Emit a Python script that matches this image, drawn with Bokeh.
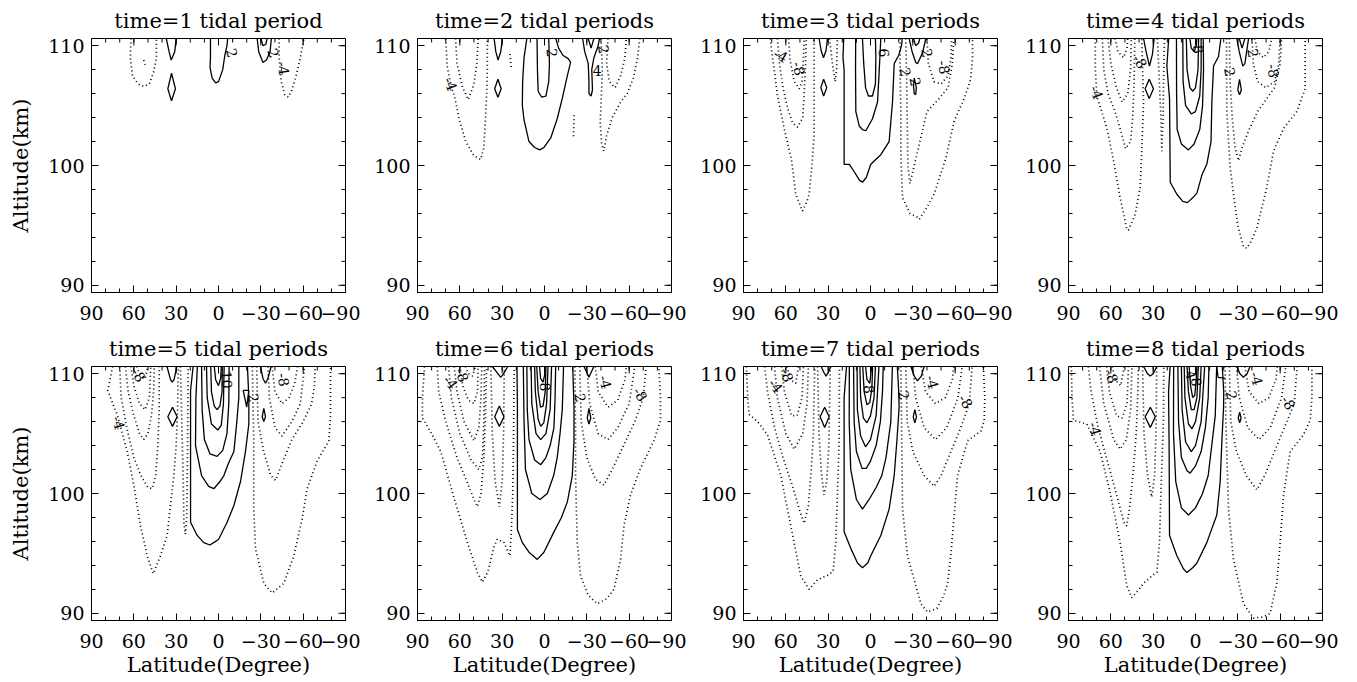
from bokeh.plotting import figure
from bokeh.layouts import row, column
from bokeh.models import Range1d, FixedTicker
from bokeh.core.properties import value
from bokeh.embed import file_html
from bokeh.resources import INLINE

FONT = "DejaVu Serif"
LAT_TICKS = [90, 60, 30, 0, -30, -60, -90]
LAT_MINOR = list(range(-90, 91, 10))
LAT_LABELS = {90: "90", 60: "60", 30: "30", 0: "0", -30: "\u221230", -60: "\u221260", -90: "\u221290"}
ALT_TICKS = [90, 100, 110]
ALT_MINOR = list(range(90, 111, 2))
TITLES = ["time=1 tidal period", "time=2 tidal periods", "time=3 tidal periods",
          "time=4 tidal periods", "time=5 tidal periods", "time=6 tidal periods",
          "time=7 tidal periods", "time=8 tidal periods"]

# ---- contour lines: (latitude, altitude km) ----
P1_SOLID = [
    [(37, 110.6), (35, 109.5), (33.5, 108.8), (31, 109.5), (30, 110.6)],
    [(33.3, 107.7), (35.9, 106.4), (33.3, 105.4), (30.5, 106.4), (33.3, 107.7)],
    [(5.7, 110.6), (5.7, 109), (6, 108.2), (4.5, 107.3), (2, 106.9), (0, 107), (-3, 108), (-4.5, 109.2), (-6, 110), (-6.5, 110.6)],
    [(-27.4, 110.6), (-28.5, 109.5), (-31.5, 108.6), (-34, 108.8), (-36.5, 109.5), (-37.5, 110.6)],
    [(-30, 110.6), (-31.5, 110.0), (-33.5, 110.1), (-34.5, 110.6)],
]
P1_DOTTED = [
    [(62, 110.6), (62.5, 109), (61, 107.5), (57, 106.8), (53, 106.6), (49, 106.8), (46, 107.8), (44, 109), (44, 110.6)],
    [(-43, 110.6), (-43, 109), (-44.5, 107), (-47, 105.9), (-49.5, 105.7), (-52, 106.3), (-55, 107.5), (-58, 109), (-60.5, 110.6)],
    [(53, 108.8), (52, 108.4)],
]
P1_LABELS = [(-9.8, 109.4, "2", -1.3), (-39.2, 109.4, "2", -1.2), (-46.3, 108.1, "-4", -1.4)]

P2_SOLID = [
    [(35.7, 110.6), (34.5, 109.5), (32.9, 108.8), (31, 109.5), (29.8, 110.6)],
    [(33, 107.2), (35.3, 106.4), (33, 105.7), (30.7, 106.4), (33, 107.2)],
    [(12.5, 110.6), (14.5, 109), (15.5, 107), (15.7, 105), (14.5, 103.8), (11, 102), (7, 101.5), (3.4, 101.3), (0.5, 101.5), (-4.4, 102.3), (-9, 103.9), (-12.6, 105.6), (-16.2, 107.5), (-18.5, 108.6), (-17, 108.9), (-13, 109.2), (-10, 109.8), (-8, 110.6)],
    [(5.3, 110.6), (5, 108), (4.5, 106.2), (2, 105.7), (-1, 105.8), (-3, 107), (-3.5, 108.5), (-3, 110.6)],
    [(-27, 110.6), (-28.5, 109.5), (-31, 108.5), (-31.5, 107), (-31.5, 106), (-33, 105.8), (-34, 106.3), (-33.5, 108), (-35, 109), (-38, 110), (-39, 110.6)],
    [(-31, 110.6), (-33, 109.8), (-35, 110.6)],
]
P2_DOTTED = [
    [(70, 110.6), (69.5, 109.5), (69, 108.3), (66, 106.5), (64, 105.9), (60.5, 103.9), (55.8, 102), (50, 100.8), (45.2, 100.5), (43, 101.5), (42, 103.5), (41, 106), (40.5, 108), (40.5, 110.6)],
    [(63, 110.6), (62, 108.5), (58, 106.5), (54, 105.5), (50, 106.8), (48, 108.5), (47, 110.6)],
    [(24.5, 109.3), (23.5, 108.1)],
    [(-21, 104.2), (-20.5, 102.3)],
    [(-40, 110.6), (-41, 108), (-40, 105), (-39.5, 103.5), (-40.5, 101.8), (-42, 101.2), (-44, 102.5), (-48, 104), (-54, 105.3), (-58.6, 106), (-63, 107.3), (-66, 109), (-67.5, 110.6)],
    [(-45, 110.6), (-44, 108.5), (-46, 107), (-50, 106.5), (-54, 107.5), (-57, 109), (-58, 110.6)],
]
P2_LABELS = [(66.4, 106.8, "-4", -1.2), (-5.5, 109.4, "2", -1.5), (-42.1, 109.7, "2", -1.4), (-37.4, 107.9, "4", 0.0)]

P3_SOLID = [
    [(36.4, 110.6), (35, 109.6), (33.3, 109), (31.5, 109.6), (30.5, 110.6)],
    [(33.2, 107.2), (35.2, 106.5), (33.2, 105.8), (31, 106.5), (33.2, 107.2)],
    [(19, 110.6), (19.5, 109), (18.7, 108), (18.7, 104), (18.7, 100.1), (15, 100.1), (11.6, 99.5), (8, 98.8), (5.7, 98.6), (3, 99), (-0.2, 100.1), (-7.3, 100.9), (-13.2, 102), (-15.6, 105.3), (-16.8, 108.5), (-20, 109.2), (-22, 110), (-22.5, 110.6)],
    [(10.5, 110.6), (10.6, 108), (10.4, 104.5), (8, 103.3), (5.7, 103), (3.3, 102.9), (-1.4, 103.9), (-5, 105.3), (-6, 107.5), (-7.3, 110.6)],
    [(5.7, 110.6), (4.8, 108.5), (3.5, 106.5), (1.5, 105.8), (-1.4, 105.8), (-3.5, 106.8), (-3.8, 109), (-3.5, 110.6)],
    [(-27.4, 110.6), (-29.5, 109.5), (-32.1, 108.6), (-33.3, 108.5), (-36.9, 109.4), (-39.2, 110.6)],
    [(-30.5, 110.6), (-32, 110), (-34, 110.2), (-35, 110.6)],
    [(-31, 107.3), (-32.5, 106.5), (-32, 105.9), (-31, 106), (-30.5, 106.6), (-31, 107.3)],
]
P3_DOTTED = [
    [(71, 110.6), (69.5, 109), (68.3, 108.1), (66, 105.9), (61.2, 103.1), (56, 100.5), (53, 97.6), (48.2, 96.2), (45, 97), (43.5, 97.6), (41.5, 100), (40, 102.5), (40, 105), (40, 108), (40, 110.6)],
    [(66, 110.6), (64.5, 108.5), (62, 106.5), (58.8, 104.8), (55, 103.5), (51.7, 103.2), (48, 104), (47, 106), (46, 108.5), (45.5, 110.6)],
    [(58, 110.6), (57, 108.8), (54, 107), (50.5, 106.4), (48.5, 107), (47.5, 109), (47, 110.6)],
    [(29, 110.6), (27, 108.5), (25, 107), (24, 108), (23.5, 110.6)],
    [(-21, 110.6), (-21, 108), (-21.5, 104.2), (-21.5, 100.9), (-22.7, 97.3), (-28, 96), (-33, 95.7), (-34.5, 95.5), (-40, 96.5), (-45, 97.6), (-53.4, 100.6), (-59.3, 103.7), (-66.4, 105.6), (-71, 107.2), (-72.3, 109), (-72.3, 110.6)],
    [(-25, 110.6), (-25.5, 108), (-26, 104), (-26.5, 100), (-28, 98.5), (-30, 99.5), (-35, 102), (-40, 104.5), (-48, 105.5), (-55, 106.5), (-58, 108.5), (-59, 110.6)],
    [(-40, 110.6), (-41, 108.5), (-45, 107), (-50, 106.8), (-55, 107.5), (-57, 109), (-57.5, 110.6)],
]
P3_LABELS = [(63.5, 109.2, "-4", -0.5), (50.5, 108.1, "-8", -1.3), (-9.7, 109.4, "6", -1.5),
             (-25, 107.8, "2", -1.4), (-32.1, 107.0, "2", -1.4), (-52.2, 108.2, "-8", -1.4), (-40.4, 109.4, "2", -1.4)]

P4_SOLID = [
    [(36.8, 110.6), (35, 109.5), (32.6, 108.3), (30.5, 109.3), (29.3, 110.6)],
    [(32.8, 107.2), (35.7, 106.4), (32.8, 105.6), (29.8, 106.4), (32.8, 107.2)],
    [(19, 110.6), (20.3, 108.3), (18.4, 105.6), (17.9, 98.6), (13.2, 97.6), (9, 97), (5.7, 96.9), (2, 97.3), (-1, 97.7), (-4.5, 99.2), (-8, 100.1), (-11, 102), (-11.6, 105.3), (-12.8, 108.3), (-16.3, 109.1), (-18, 110.6)],
    [(13.5, 110.6), (13.4, 106), (13, 103), (10, 101.8), (5, 101.3), (1, 101.8), (-3, 103), (-5, 105), (-5.7, 108), (-5.5, 110.6)],
    [(9, 110.6), (8.8, 107), (7, 105), (3, 104.3), (0, 104.5), (-3, 105.8), (-4, 108), (-4, 110.6)],
    [(6.5, 110.6), (6, 108), (4, 106.5), (1.9, 106.2), (0, 106.5), (-1.8, 108), (-2.2, 110.6)],
    [(4, 110.6), (3, 109.8), (1, 109.5), (-0.5, 110), (-1, 110.6)],
    [(-29.3, 110.6), (-31, 109.5), (-33.5, 108.3), (-35, 108.5), (-37.6, 110.6)],
    [(-31, 110.6), (-33, 109.8), (-35, 110.6)],
    [(-31.2, 107.2), (-32.5, 106.3), (-31.2, 105.9), (-30, 106.3), (-31.2, 107.2)],
]
P4_DOTTED = [
    [(71, 110.6), (71, 108), (70, 106), (69.4, 105.6), (62.8, 103.1), (58.1, 100.4), (53.4, 97.3), (48.7, 94.7), (47.5, 94.6), (42.8, 95.9), (39.2, 98.2), (38, 101.5), (36.8, 105.3), (37.5, 108), (38, 110.6)],
    [(66, 110.6), (65, 108), (62, 106), (57, 104.5), (52, 102.5), (49.5, 101.4), (46, 102), (44.5, 104), (43.5, 107), (43, 110.6)],
    [(62, 110.6), (60, 108.5), (56, 106.5), (52, 105.3), (48, 106), (46, 108), (45.5, 110.6)],
    [(57, 110.6), (55, 109.5), (51, 109), (48.5, 109.8), (48, 110.6)],
    [(27, 110.6), (26, 108), (24.5, 104), (23.9, 101.2), (23, 104), (22.5, 108), (22, 110.6)],
    [(-22, 110.6), (-22, 108), (-22.2, 104.5), (-24.6, 99.8), (-26.9, 97.6), (-30, 95), (-34, 93.2), (-36.4, 93.1), (-40, 93.8), (-43.5, 94.8), (-50.6, 98.2), (-55.3, 101.2), (-62.4, 103.1), (-71.8, 104.5), (-77.7, 106.4), (-77.7, 108), (-77.7, 110.6)],
    [(-24, 110.6), (-24.5, 107), (-26, 104), (-28, 101.5), (-30.5, 100.4), (-33, 101.5), (-38, 103), (-44, 104.5), (-50, 105.5), (-56, 106.5), (-60, 108.5), (-61, 110.6)],
    [(-40, 110.6), (-41, 108.5), (-44, 107), (-50, 106.5), (-56, 107), (-59, 108.5), (-60, 110.6)],
    [(-42, 110.6), (-44, 109.5), (-48, 109), (-52, 109.5), (-54, 110.6)],
]
P4_LABELS = [(69.9, 106.1, "-4", -1.2), (39.2, 108.7, "-8", -1.0), (-2.1, 109.7, "8", -1.5),
             (-24.6, 107.8, "2", -1.4), (-41.1, 109.4, "2", -1.4), (-55.3, 107.9, "-8", -1.4)]

P5_SOLID = [
    [(36.5, 110.6), (34, 109.5), (32.8, 109.3), (31.5, 109.5), (29.5, 110.6)],
    [(32.6, 107.2), (35.9, 106.4), (32.6, 105.6), (29.3, 106.4), (32.6, 107.2)],
    [(18, 110.6), (19.8, 108.6), (19.8, 104), (19.8, 97.6), (15.1, 96.5), (10.4, 95.9), (6.1, 95.7), (2, 96), (-0.2, 96.2), (-6.1, 97.6), (-10.9, 99), (-15.6, 101), (-19.1, 103.5), (-21.5, 105.8), (-21.5, 108), (-20.5, 110.6)],
    [(15, 110.6), (16, 108), (16.3, 104), (12, 101.5), (7, 100.6), (3.3, 100.4), (-1, 101), (-3.8, 101.5), (-7, 102.5), (-10.9, 103.5), (-13, 106), (-14.4, 108), (-14.4, 110.6)],
    [(12, 110.6), (11.6, 107), (10, 104.5), (6, 103.3), (1, 103.1), (-3, 103.6), (-6, 105), (-7.3, 107.5), (-7.5, 110.6)],
    [(8.5, 110.6), (8, 108), (5, 105.8), (0.5, 105.3), (-2, 105.7), (-3.5, 107.5), (-4, 110.6)],
    [(5.5, 110.6), (5, 108.5), (3, 107.3), (1, 107), (-1, 107.3), (-2.5, 108.5), (-2.7, 110.6)],
    [(3, 110.6), (2, 109.5), (0, 109), (-1.5, 109.6), (-2, 110.6)],
    [(-29.8, 110.6), (-31.5, 109.6), (-33.3, 109.2), (-35, 109.6), (-37.3, 110.6)],
    [(-17.5, 108.6), (-21.5, 108.6), (-20, 107.2), (-17.5, 108.6)],
    [(-32.1, 107.1), (-33.3, 106.4), (-32.1, 106), (-31, 106.4), (-32.1, 107.1)],
]
P5_DOTTED = [
    [(75, 110.6), (78.4, 108.6), (74, 107.2), (71.8, 106.6), (64.7, 103.5), (60, 100.7), (55.3, 97.3), (50.5, 94.8), (46.3, 93.3), (41.1, 94.8), (36.4, 96.5), (33.5, 99.6), (31.6, 101.5), (30, 104), (29, 107), (28.5, 110.6)],
    [(27, 110.6), (26, 106), (25, 101), (24.5, 97.5), (23.5, 96.6), (22.5, 98), (22, 103), (21.5, 110.6)],
    [(70, 110.6), (69, 108), (65, 105.5), (60, 103), (55, 101.5), (50, 100.5), (47, 100.4), (44.5, 101.5), (43, 104), (42, 107), (42, 110.6)],
    [(66, 110.6), (64, 108.5), (60, 106.5), (56, 105), (53, 104.5), (50, 105), (47.5, 106.5), (46, 108.5), (45.5, 110.6)],
    [(62, 110.6), (60, 109), (56, 107.5), (52, 107), (49, 108), (48, 110.6)],
    [(58, 110.6), (56, 110), (52, 109.6), (50, 110.6)],
    [(-24, 110.6), (-24.5, 107), (-25, 104.6), (-25, 98.7), (-26.2, 95.4), (-32.1, 92.5), (-38, 91.7), (-46.3, 92.5), (-53.4, 94.8), (-59.3, 97.9), (-62.8, 100.4), (-69.9, 102.7), (-78.2, 104.4), (-79.4, 106.5), (-79.4, 110.6)],
    [(-27, 110.6), (-28, 106), (-32, 103.5), (-37, 101.5), (-40.4, 101.1), (-45, 102.5), (-52, 104.5), (-60, 106), (-66, 107.5), (-68, 109), (-68.5, 110.6)],
    [(-35, 110.6), (-36, 108), (-40, 105.5), (-45, 104.8), (-52, 106), (-58, 107.5), (-61, 110.6)],
    [(-38, 110.6), (-40, 108.5), (-45, 107.5), (-50, 108), (-54, 109.2), (-56, 110.6)],
]
P5_LABELS = [(70.6, 105.9, "-4", -1.3), (56.5, 109.9, "-8", -1.0), (-6.1, 109.5, "10", -1.5),
             (-25, 108.0, "2", -1.4), (-46.3, 109.5, "-8", -1.4)]

P6_SOLID = [
    [(37, 110.6), (33, 110), (31, 109.7), (29, 110), (26, 110.6)],
    [(32, 107.3), (35.3, 106.4), (32, 105.6), (28.7, 106.4), (32, 107.3)],
    [(19.5, 110.6), (19.2, 107), (19.2, 97), (15.7, 95.9), (11, 95.1), (5.1, 94.5), (0.4, 95.1), (-6.7, 96.8), (-12, 98), (-16.2, 99.3), (-19.7, 101.5), (-20.9, 104.4), (-20.9, 107.2), (-20, 110.6)],
    [(15, 110.6), (14.5, 106), (13.5, 102), (9, 100), (3.2, 99.5), (-2, 100), (-6.5, 101.5), (-9, 103), (-11, 105), (-12.6, 107), (-13.5, 110.6)],
    [(12.5, 110.6), (12.2, 107), (11, 104.5), (7, 102.8), (2.7, 102.4), (-1, 103), (-4, 104), (-6.7, 105.5), (-7.5, 108), (-7.9, 110.6)],
    [(9.5, 110.6), (9, 107.5), (6, 105), (2.7, 104.5), (-1, 105), (-4, 107), (-5, 110.6)],
    [(7, 110.6), (6.5, 108.5), (4.5, 106.2), (2.7, 105.6), (0.5, 105.9), (-1.5, 107.5), (-2.5, 110.6)],
    [(5.5, 110.6), (4.5, 108.5), (2.8, 107.2), (1, 107.3), (-0.5, 108.5), (-1, 110.6)],
    [(3.5, 110.6), (2.8, 109.6), (1, 109.3), (-0.3, 110), (-0.5, 110.6)],
    [(-28, 110.6), (-30, 110.1), (-31.5, 109.7), (-33, 110.1), (-35, 110.6)],
    [(-31.5, 107.1), (-32.8, 106.3), (-31.5, 105.8), (-30.3, 106.3), (-31.5, 107.1)],
]
P6_DOTTED = [
    [(85, 110.6), (86.5, 108), (86.5, 106.3), (80, 105), (73.5, 103.5), (64, 99.6), (54.6, 95.9), (47.5, 93.4), (44, 92.6), (40, 93.5), (36, 95.5), (33.4, 96.2), (28.7, 95.9), (24.5, 94.8), (23.5, 97), (22.5, 100), (22, 104), (21.5, 110.6)],
    [(76, 110.6), (75, 108.5), (70, 106), (62, 103), (55, 101), (50, 99.5), (47.5, 98.9), (45, 100), (43, 103), (42, 106), (41, 110.6)],
    [(38, 110.6), (37, 105), (35, 101), (32, 98.9), (30, 101), (29, 105), (28.5, 110.6)],
    [(68, 110.6), (66, 108), (60, 105), (52, 102.8), (46.5, 102), (44, 103), (43, 106), (42.5, 110.6)],
    [(64, 110.6), (62, 108.5), (57, 106), (50, 104.4), (46.5, 105.5), (45, 108), (44.5, 110.6)],
    [(60, 110.6), (58, 109), (54, 107.8), (50, 107.5), (47.5, 108.5), (47, 110.6)],
    [(56, 110.6), (54, 110), (51, 109.8), (49, 110.6)],
    [(-21.5, 110.6), (-22, 105), (-22, 101.5), (-23.2, 95.9), (-25.6, 93.1), (-31, 91.5), (-37.4, 90.8), (-44, 91.2), (-49.2, 92), (-53.9, 94.5), (-56.3, 97.3), (-61, 99.9), (-68, 102.1), (-77.5, 104.4), (-82.2, 106.1), (-82.2, 108), (-81, 110.6)],
    [(-25, 110.6), (-26, 106), (-30, 103), (-36, 101.2), (-42.1, 100.7), (-48, 102), (-56, 104), (-64, 106), (-70, 108), (-72, 110.6)],
    [(-30, 110.6), (-32, 107.5), (-38, 105), (-45, 104.5), (-52, 105.5), (-60, 107.5), (-64, 110.6)],
    [(-36, 110.6), (-38, 108.5), (-45, 107.2), (-52, 107.8), (-57, 109.5), (-58, 110.6)],
]
P6_LABELS = [(66.4, 109.3, "-4", -0.9), (58.2, 109.9, "-8", -1.2), (-0.8, 108.9, "8", -1.5),
             (-25.6, 108.0, "2", -1.4), (-43.3, 109.3, "-4", -1.3), (-68, 108.3, "-8", -1.0)]

P7_SOLID = [
    [(35, 110.6), (33, 110.1), (31.5, 109.8), (30, 110.1), (28, 110.6)],
    [(32.5, 107.2), (35.7, 106.4), (32.5, 105.5), (29.3, 106.4), (32.5, 107.2)],
    [(17, 110.6), (18.7, 108), (18.7, 104), (18.7, 96.8), (13.9, 95.4), (9.2, 94.2), (5.7, 93.8), (2, 94.2), (-0.2, 94.8), (-7.3, 96.5), (-13.2, 98.7), (-16.8, 101.5), (-18.7, 104.4), (-20.3, 107.2), (-20, 108.5), (-19, 110.6)],
    [(15, 110.6), (15.1, 106), (14, 102), (10, 99.5), (5.7, 98.7), (1, 99.5), (-4, 100.5), (-8, 101.5), (-11, 103), (-14.4, 106), (-15.5, 110.6)],
    [(12, 110.6), (11.6, 106), (10, 103.5), (6, 102.1), (3, 102.1), (0, 102.7), (-4, 104), (-7, 106), (-8.5, 108.5), (-9, 110.6)],
    [(9.5, 110.6), (9.3, 107), (7, 104.8), (3.5, 103.9), (0, 104.5), (-4, 106.5), (-6, 110.6)],
    [(7.5, 110.6), (7, 108), (5, 106.3), (2.5, 105.9), (0, 106.5), (-2.5, 108), (-3.5, 110.6)],
    [(5.5, 110.6), (4.5, 108.5), (2.5, 107.4), (0.5, 107.6), (-1, 108.8), (-1.5, 110.6)],
    [(3.5, 110.6), (2.5, 109.5), (0.5, 109.2), (-0.8, 110.6)],
    [(-28.6, 110.6), (-31, 109.8), (-33.3, 109.4), (-36, 109.8), (-38, 110.6)],
    [(-31.4, 107), (-32.6, 106.4), (-31.4, 105.9), (-30.3, 106.4), (-31.4, 107)],
]
P7_DOTTED = [
    [(88, 110.6), (87, 108), (86, 106.6), (80, 106), (73, 104.9), (63.5, 101.5), (56.5, 97.3), (49.4, 93.1), (43.5, 92), (37.6, 92.8), (30, 93.2), (26.5, 93.5), (24.6, 95.9), (23.4, 100.1), (22.2, 104.4), (22, 110.6)],
    [(75, 110.6), (73, 108.5), (68, 105.5), (62, 103), (55, 100.5), (50, 98.5), (47, 97.5), (44, 99), (42, 102), (40.5, 105), (40, 108), (39.5, 110.6)],
    [(37.5, 110.6), (36.5, 105), (35, 102), (33, 99.9), (31, 101), (29.5, 104), (28.5, 110.6)],
    [(68, 110.6), (66, 108), (60, 105), (54, 103.7), (48, 105), (45, 107.5), (44, 110.6)],
    [(63, 110.6), (61, 108.5), (56, 106.5), (52, 106.5), (48.5, 108), (47.5, 110.6)],
    [(59, 110.6), (57, 109.5), (53, 109.2), (51, 110.6)],
    [(-21.5, 110.6), (-22, 106), (-22.7, 98.7), (-26.2, 94.8), (-35.7, 90.8), (-40.4, 90.1), (-47, 90.4), (-52, 91.5), (-54.6, 92.5), (-56.9, 94.8), (-59.3, 98.2), (-61.7, 101.5), (-68.8, 104.4), (-78.2, 105.2), (-80.6, 106.1), (-81, 108), (-80, 110.6)],
    [(-25, 110.6), (-26, 106), (-30, 103.5), (-38, 101.5), (-45.1, 100.6), (-50, 101.5), (-57, 103.5), (-64, 105.5), (-70, 107.5), (-72, 110.6)],
    [(-30, 110.6), (-32, 108), (-38, 105.5), (-46, 104.5), (-54, 105.5), (-62, 108), (-65, 110.6)],
    [(-36, 110.6), (-39, 108.5), (-46, 107.5), (-53, 108), (-58, 109.5), (-59, 110.6)],
]
P7_LABELS = [(67, 109.0, "-4", -0.9), (59, 109.9, "-8", -1.2), (0.9, 108.7, "8", -1.5),
             (-23.9, 108.2, "2", -1.4), (-44, 109.3, "-4", -1.3), (-67.6, 107.7, "-8", -1.0)]

P8_SOLID = [
    [(36.8, 110.6), (34, 110), (32.1, 109.8), (30, 110), (27.4, 110.6)],
    [(32, 107.2), (35.7, 106.4), (32, 105.5), (28.5, 106.4), (32, 107.2)],
    [(18, 110.6), (19.1, 108.5), (18.7, 104), (18.4, 96.5), (13.2, 94.8), (8.5, 93.7), (6.1, 93.4), (2, 93.8), (-1, 94.2), (-8, 95.9), (-15.1, 98.2), (-17.5, 101), (-18.7, 104.4), (-19.9, 107.2), (-20, 108.5), (-19, 110.6)],
    [(15.5, 110.6), (15.6, 105), (14, 101), (10, 98.8), (5, 98.2), (0, 98.8), (-5, 100), (-9, 101.5), (-11.5, 104), (-14, 106.5), (-15, 110.6)],
    [(12.5, 110.6), (12, 106), (10, 103), (6, 101.9), (3.8, 101.7), (0, 102.3), (-4, 103.5), (-7, 105.5), (-9, 108), (-9.5, 110.6)],
    [(10, 110.6), (9.5, 107), (7, 104.3), (3, 103.5), (0, 104), (-4, 106), (-6.5, 110.6)],
    [(8, 110.6), (7.5, 108), (5, 105.8), (2.5, 105.4), (0, 106), (-3, 108), (-4, 110.6)],
    [(6, 110.6), (5, 108.5), (3, 107), (1, 107), (-1, 108), (-2, 110.6)],
    [(4.5, 110.6), (3.5, 109), (2, 108), (0.5, 108.2), (-0.5, 109.5), (-1, 110.6)],
    [(-29.3, 110.6), (-31.5, 110), (-34, 109.7), (-36.5, 110), (-38.7, 110.6)],
    [(-31.3, 106.8), (-32.3, 106.3), (-31.3, 105.9), (-30.3, 106.3), (-31.3, 106.8)],
    [(-15, 110.6), (-16, 109.7), (-21, 109.6)],
]
P8_DOTTED = [
    [(88, 110.6), (87.5, 108), (86.5, 106.1), (77, 105.8), (67.6, 103.5), (60.5, 100.1), (53.4, 95.9), (48.7, 92.3), (45.1, 91.3), (40, 92), (36.8, 92.5), (30, 93.2), (27.4, 93.4), (25.5, 96), (24.5, 100.1), (23.5, 103.5), (22.7, 106), (22.5, 110.6)],
    [(76, 110.6), (74, 108.5), (69, 105.5), (62, 102.5), (55, 99.5), (50.5, 97.5), (48.7, 97.3), (46.5, 99), (44, 102), (42, 105), (41, 108), (40.5, 110.6)],
    [(37.5, 110.6), (36.5, 105), (34, 101.5), (31, 99.7), (29, 101.5), (28, 105), (27.5, 110.6)],
    [(68, 110.6), (65, 107.5), (58, 104.5), (53.4, 103.7), (49, 104.5), (46, 107), (45, 110.6)],
    [(63, 110.6), (61, 108.5), (56, 106.5), (52, 106.3), (48.5, 107.5), (47.5, 110.6)],
    [(59, 110.6), (57, 109.5), (53, 109), (50.5, 110.6)],
    [(-21, 110.6), (-21.5, 106), (-23.4, 98.7), (-26.9, 94.5), (-34, 90.8), (-41.1, 89.6), (-48.2, 89.7), (-52.9, 90), (-57.6, 92.5), (-60, 95.9), (-62.4, 99.9), (-67.1, 103.5), (-76.5, 104.9), (-81.3, 106.1), (-82.5, 108), (-82.5, 110.6)],
    [(-24, 110.6), (-25, 106), (-29, 103.5), (-36, 101.5), (-43.5, 100.3), (-49, 101.5), (-56, 103.5), (-63, 105.5), (-70, 107.5), (-72, 110.6)],
    [(-29, 110.6), (-31, 108), (-37, 105.5), (-45, 104.5), (-53, 105.5), (-61, 108), (-64, 110.6)],
    [(-35, 110.6), (-38, 108.5), (-45, 107.5), (-52, 108), (-57, 109.5), (-58, 110.6)],
]
P8_LABELS = [(71, 105.4, "-4", -1.3), (59.3, 109.8, "-8", -1.2), (3, 109.9, "4", -1.2), (-1, 109.3, "8", -1.5),
             (-25.8, 108.2, "2", -1.4), (-43.5, 109.6, "-4", -1.3), (-65.9, 107.6, "-8", -1.0)]

PANELS = [
    (P1_SOLID, P1_DOTTED, P1_LABELS), (P2_SOLID, P2_DOTTED, P2_LABELS),
    (P3_SOLID, P3_DOTTED, P3_LABELS), (P4_SOLID, P4_DOTTED, P4_LABELS),
    (P5_SOLID, P5_DOTTED, P5_LABELS), (P6_SOLID, P6_DOTTED, P6_LABELS),
    (P7_SOLID, P7_DOTTED, P7_LABELS), (P8_SOLID, P8_DOTTED, P8_LABELS),
]

X_START, X_END = 90, -90
Y_START, Y_END = 89.4, 110.6
FRAME = 254
COL_W = [360, 326, 326, 326]
COL_LEFT = [91, 57, 57, 56]
COL_RIGHT = [15, 15, 15, 16]
ROW_H = [328, 354]
ROW_TOP = [38, 38]
ROW_BOTTOM = [36, 62]
MAJOR_LEN, MINOR_LEN = 7, 4


def style_axis(ax, ticks, minor, standoff):
    ax.ticker = FixedTicker(ticks=ticks, minor_ticks=minor)
    ax.major_tick_in = MAJOR_LEN
    ax.major_tick_out = 0
    ax.minor_tick_in = MINOR_LEN
    ax.minor_tick_out = 0
    ax.axis_line_color = "black"
    ax.major_tick_line_color = "black"
    ax.minor_tick_line_color = "black"
    ax.axis_line_width = 1
    ax.major_label_text_font = FONT
    ax.major_label_text_font_size = "19px"
    ax.major_label_text_color = "black"
    ax.major_label_standoff = standoff


def polylines(lines):
    xs = [[pt[0] for pt in ln] for ln in lines]
    ys = [[pt[1] for pt in ln] for ln in lines]
    return xs, ys


def make_panel(k):
    r, c = divmod(k, 4)
    solid, dotted, labels = PANELS[k]
    p = figure(width=COL_W[c], height=ROW_H[r],
               x_range=Range1d(X_START, X_END), y_range=Range1d(Y_START, Y_END),
               min_border_left=COL_LEFT[c], min_border_right=COL_RIGHT[c],
               min_border_top=ROW_TOP[r], min_border_bottom=ROW_BOTTOM[r],
               output_backend="svg", toolbar_location=None)
    p.grid.visible = False
    p.outline_line_color = "black"
    p.outline_line_width = 1
    p.background_fill_color = "white"
    p.border_fill_color = "white"

    p.title.text = TITLES[k]
    p.title.align = "center"
    p.title.text_font = FONT
    p.title.text_font_size = "21px"
    p.title.text_font_style = "normal"
    p.title.text_color = "black"
    p.title.standoff = 11

    xa = p.xaxis[0]
    ya = p.yaxis[0]
    style_axis(xa, LAT_TICKS, LAT_MINOR, 13)
    xa.major_label_overrides = LAT_LABELS
    style_axis(ya, ALT_TICKS, ALT_MINOR, 7)

    # inward ticks on the top and right edges of the box
    dx = (X_START - X_END) / FRAME  # degrees per pixel
    dy = (Y_END - Y_START) / FRAME  # km per pixel
    p.segment(x0=LAT_TICKS, y0=[Y_END] * len(LAT_TICKS), x1=LAT_TICKS,
              y1=[Y_END - MAJOR_LEN * dy] * len(LAT_TICKS), line_color="black", line_width=1)
    p.segment(x0=LAT_MINOR, y0=[Y_END] * len(LAT_MINOR), x1=LAT_MINOR,
              y1=[Y_END - MINOR_LEN * dy] * len(LAT_MINOR), line_color="black", line_width=1)
    p.segment(x0=[X_END] * len(ALT_TICKS), y0=ALT_TICKS, x1=[X_END + MAJOR_LEN * dx] * len(ALT_TICKS),
              y1=ALT_TICKS, line_color="black", line_width=1)
    p.segment(x0=[X_END] * len(ALT_MINOR), y0=ALT_MINOR, x1=[X_END + MINOR_LEN * dx] * len(ALT_MINOR),
              y1=ALT_MINOR, line_color="black", line_width=1)

    if c == 0:
        ya.axis_label = "Altitude(km)"
        ya.axis_label_text_font = FONT
        ya.axis_label_text_font_size = "21px"
        ya.axis_label_text_font_style = "normal"
        ya.axis_label_text_color = "black"
        ya.axis_label_standoff = 12
    if r == 1:
        xa.axis_label = "Latitude(Degree)"
        xa.axis_label_text_font = FONT
        xa.axis_label_text_font_size = "21px"
        xa.axis_label_text_font_style = "normal"
        xa.axis_label_text_color = "black"
        xa.axis_label_standoff = 2

    xs, ys = polylines(solid)
    p.multi_line(xs=xs, ys=ys, line_color="black", line_width=1.3)
    xs, ys = polylines(dotted)
    p.multi_line(xs=xs, ys=ys, line_color="black", line_width=1.7, line_dash="1 3")

    p.text(x=[l[0] for l in labels], y=[l[1] for l in labels],
           text=[l[2] for l in labels], angle=[l[3] for l in labels],
           text_font=value(FONT), text_font_size="14px", text_color="black",
           text_align="center", text_baseline="middle")
    return p


figs = [make_panel(k) for k in range(8)]
layout = column(row(*figs[:4]), row(*figs[4:]))
open("out.html", "w").write(file_html(layout, INLINE))
